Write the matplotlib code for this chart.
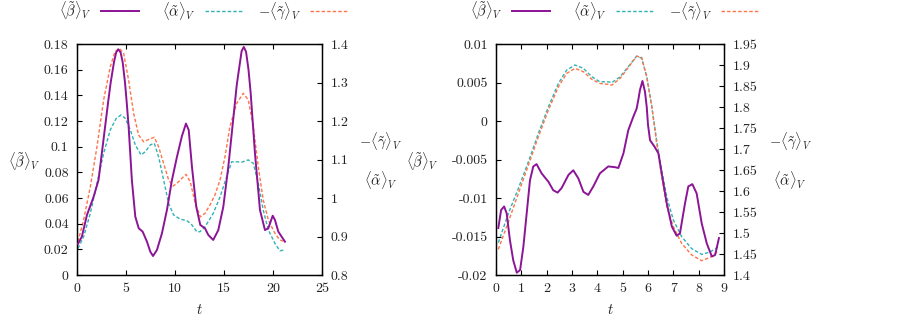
import numpy as np
import matplotlib
matplotlib.use('Agg')
import matplotlib.pyplot as plt
from matplotlib.lines import Line2D
from matplotlib.ticker import MultipleLocator, FuncFormatter

plt.rcParams['font.family'] = ['cmr10', 'DejaVu Serif']
plt.rcParams['mathtext.fontset'] = 'cm'
plt.rcParams['axes.unicode_minus'] = False
plt.rcParams['font.size'] = 10

# colours (gnuplot-like)
C_BETA = '#8c1497'
C_ALPHA = '#2fb3b3'
C_GAMMA = '#ff7448'
TXT = '#222222'

# ---- left panel data ----
t_beta_a = [0.1, 0.5, 1.02, 1.7, 2.2, 2.7, 3.2, 3.44, 3.78, 4.0, 4.22, 4.45, 4.66, 4.9, 5.07,
            5.27, 5.6, 5.95, 6.3, 6.7, 7.14, 7.48, 7.76, 8.16, 8.67, 9.18, 9.69, 10.2, 10.7,
            11.12, 11.4, 11.73, 12.17, 12.58, 13.06, 13.4, 13.9, 14.42, 14.93, 15.44, 15.95,
            16.3, 16.6, 16.8, 17.02, 17.25, 17.5, 17.72, 18.16, 18.67, 19.18, 19.52, 19.97,
            20.2, 20.54, 21.22]
beta_a = [0.0242, 0.0299, 0.0468, 0.061, 0.074, 0.105, 0.136, 0.150, 0.166, 0.1735, 0.1759,
          0.1735, 0.166, 0.150, 0.135, 0.1156, 0.074, 0.0455, 0.0364, 0.0338, 0.026, 0.0182,
          0.0148, 0.0195, 0.0325, 0.0507, 0.074, 0.092, 0.108, 0.118, 0.113, 0.0844, 0.0532,
          0.039, 0.0364, 0.0312, 0.0273, 0.035, 0.0532, 0.0844, 0.122, 0.148, 0.164, 0.1745,
          0.1777, 0.174, 0.160, 0.142, 0.0948, 0.0507, 0.035, 0.0364, 0.0462, 0.0429, 0.0338,
          0.026]

t_alpha_a = [0.1, 0.68, 1.36, 2.04, 2.72, 3.4, 4.01, 4.49, 4.93, 5.44, 5.95, 6.53, 6.97, 7.48,
             7.89, 8.33, 8.84, 9.35, 9.86, 10.54, 11.22, 11.73, 12.24, 12.55, 13.06, 13.9,
             14.6, 15.27, 15.78, 16.3, 16.8, 17.48, 17.99, 18.5, 19.0, 19.52, 20.2, 20.7, 21.22]
alpha_a = [0.869, 0.8995, 0.960, 1.038, 1.116, 1.177, 1.207, 1.2156, 1.207, 1.177, 1.138,
           1.112, 1.120, 1.138, 1.142, 1.107, 1.047, 0.986, 0.956, 0.945, 0.941, 0.930,
           0.912, 0.9125, 0.925, 0.960, 1.003, 1.055, 1.094, 1.094, 1.093, 1.099, 1.090,
           1.038, 0.969, 0.917, 0.882, 0.863, 0.865]

t_gamma_a = [0.1, 0.68, 1.36, 2.04, 2.72, 3.4, 3.88, 4.32, 4.76, 5.27, 5.78, 6.29, 6.8, 7.31,
             7.89, 8.33, 8.84, 9.35, 9.8, 10.2, 10.7, 11.12, 11.56, 12.07, 12.58, 13.06,
             13.57, 14.08, 14.6, 15.1, 15.6, 16.3, 16.97, 17.48, 17.99, 18.5, 19.0, 19.52,
             20.2, 20.7, 21.22]
gamma_a = [0.8866, 0.943, 1.029, 1.133, 1.2545, 1.341, 1.380, 1.3888, 1.376, 1.306, 1.220,
           1.1636, 1.146, 1.152, 1.1577, 1.133, 1.090, 1.047, 1.031, 1.038, 1.051, 1.0615,
           1.042, 0.986, 0.951, 0.960, 0.982, 1.008, 1.047, 1.107, 1.185, 1.246, 1.272,
           1.2545, 1.185, 1.081, 0.995, 0.943, 0.908, 0.891, 0.8866]

# ---- right panel data ----
t_beta_b = [0.09, 0.2, 0.32, 0.42, 0.55, 0.68, 0.82, 0.95, 1.08, 1.21, 1.34, 1.47, 1.6, 1.8,
            2.07, 2.26, 2.43, 2.59, 2.86, 3.05, 3.25, 3.45, 3.64, 3.84, 4.1, 4.43, 4.7, 4.83,
            5.03, 5.22, 5.42, 5.55, 5.62, 5.68, 5.78, 5.88, 5.95, 6.0, 6.08, 6.25, 6.41, 6.54,
            6.74, 6.94, 7.13, 7.26, 7.46, 7.59, 7.75, 7.92, 8.12, 8.32, 8.52, 8.65, 8.8]
beta_b = [-0.0139, -0.01156, -0.0111, -0.0120, -0.0155, -0.0181, -0.0197, -0.01935, -0.0163,
          -0.0120, -0.0077, -0.0059, -0.0056, -0.0068, -0.0079, -0.0090, -0.0093, -0.0087,
          -0.0070, -0.0064, -0.00745, -0.0092, -0.0096, -0.0085, -0.0068, -0.0059, -0.0060,
          -0.0061, -0.0042, -0.0012, 0.00056, 0.0016, 0.0028, 0.0040, 0.0052, 0.0038, 0.0018,
          -0.0005, -0.0025, -0.0033, -0.0042, -0.0068, -0.0107, -0.0137, -0.0149, -0.0146,
          -0.0107, -0.0085, -0.0082, -0.0094, -0.0133, -0.0159, -0.0176, -0.0174, -0.0152]

t_alpha_b = [0.09, 0.49, 0.88, 1.28, 1.67, 2.07, 2.46, 2.79, 3.12, 3.45, 3.78, 4.1, 4.43, 4.57,
             4.9, 5.22, 5.55, 5.75, 5.95, 6.15, 6.34, 6.54, 6.74, 7.0, 7.33, 7.72, 8.12, 8.45, 8.78]
alpha_b = [1.477, 1.547, 1.606, 1.670, 1.737, 1.8007, 1.856, 1.888, 1.900, 1.892, 1.872, 1.860,
           1.860, 1.858, 1.872, 1.896, 1.921, 1.916, 1.872, 1.8007, 1.721, 1.650, 1.586,
           1.531, 1.491, 1.463, 1.449, 1.455, 1.467]

t_gamma_b = t_alpha_b
gamma_b = [1.461, 1.527, 1.594, 1.662, 1.729, 1.793, 1.848, 1.880, 1.892, 1.884, 1.866, 1.856,
           1.854, 1.852, 1.868, 1.894, 1.921, 1.918, 1.872, 1.8007, 1.714, 1.634, 1.563,
           1.515, 1.475, 1.448, 1.434, 1.442, 1.458]

LBL_BETA = r'$\langle\tilde{\beta}\rangle_V$'
LBL_ALPHA = r'$\langle\tilde{\alpha}\rangle_V$'
LBL_GAMMA = r'$-\langle\tilde{\gamma}\rangle_V$'

fmt = FuncFormatter(lambda v, p: '%g' % round(v, 6))
dash = (0, (2.5, 1.5))
W, H = 913.0, 320.0


def key(x_px, y_px, label, color, ls, lw):
    # gnuplot-style key entry: right-aligned label, then line sample
    fig.text(x_px / W, 1 - y_px / H, label, ha='right', va='center', color=TXT,
             fontsize=10.5)
    fig.add_artist(Line2D([(x_px + 9) / W, (x_px + 47) / W], [1 - y_px / H] * 2,
                          transform=fig.transFigure, color=color, ls=ls, lw=lw))


def panel(rect, tb, b, ta, a, tg, g, xlim, ylim, y2lim, xstep, ystep, y2step,
          ylab_x, y2lab_x, key_x):
    ax = fig.add_axes(rect)
    ax2 = ax.twinx()
    ax.plot(tb, b, color=C_BETA, lw=1.4, solid_joinstyle='round', zorder=3)
    ax2.plot(ta, a, color=C_ALPHA, lw=1.0, ls=dash)
    ax2.plot(tg, g, color=C_GAMMA, lw=1.0, ls=dash)
    ax.set_zorder(ax2.get_zorder() + 1)
    ax.patch.set_visible(False)
    ax.set_xlim(*xlim)
    ax.set_ylim(*ylim)
    ax2.set_ylim(*y2lim)
    ax.xaxis.set_major_locator(MultipleLocator(xstep))
    ax.yaxis.set_major_locator(MultipleLocator(ystep))
    ax2.yaxis.set_major_locator(MultipleLocator(y2step))
    for a_ in (ax, ax2):
        a_.xaxis.set_major_formatter(fmt)
        a_.yaxis.set_major_formatter(fmt)
        for s in a_.spines.values():
            s.set_linewidth(0.9)
    ax.tick_params(direction='in', length=3.5, width=0.8, top=True, right=False,
                   labelcolor=TXT, labelsize=10, pad=6)
    ax2.tick_params(direction='in', length=3.5, width=0.8, labelcolor=TXT,
                    labelsize=10, pad=6)
    ax.text(0.5, -0.15, r'$t$', transform=ax.transAxes, ha='center', va='center',
            color=TXT, fontsize=10.5)
    ax.text(ylab_x, 0.49, LBL_BETA, transform=ax.transAxes, ha='center', va='center',
            color=TXT, fontsize=10.5)
    ax.text(y2lab_x, 0.58, LBL_GAMMA, transform=ax.transAxes, ha='center', va='center',
            color=TXT, fontsize=10.5)
    ax.text(y2lab_x, 0.41, LBL_ALPHA, transform=ax.transAxes, ha='center', va='center',
            color=TXT, fontsize=10.5)
    key(key_x, 11, LBL_BETA, C_BETA, '-', 1.4)
    key(key_x + 104, 11, LBL_ALPHA, C_ALPHA, dash, 1.0)
    key(key_x + 209, 11, LBL_GAMMA, C_GAMMA, dash, 1.0)
    return ax


fig = plt.figure(figsize=(9.13, 3.2), dpi=100)

panel([0.0843, 0.1406, 0.2684, 0.7219], t_beta_a, beta_a, t_alpha_a, alpha_a,
      t_gamma_a, gamma_a, (0, 25), (0, 0.18), (0.8, 1.4), 5, 0.02, 0.1,
      -0.215, 1.24, 92)
panel([0.5433, 0.1406, 0.2497, 0.7219], t_beta_b, beta_b, t_alpha_b, alpha_b,
      t_gamma_b, gamma_b, (0, 9), (-0.02, 0.01), (1.4, 1.95), 1, 0.005, 0.05,
      -0.325, 1.29, 503)

fig.savefig('out.png', dpi=100)
plt.close()
